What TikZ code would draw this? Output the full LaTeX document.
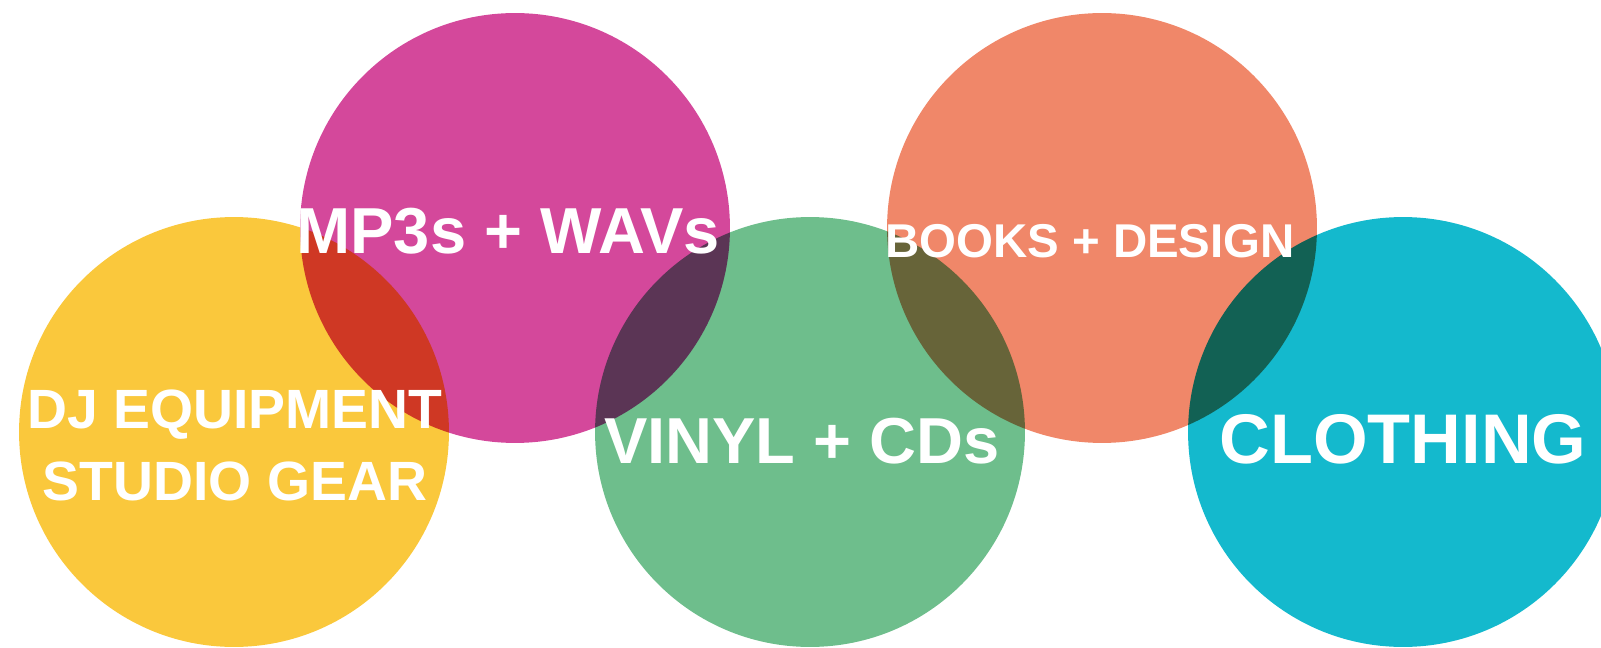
\documentclass[tikz,border=0pt]{standalone}
\usepackage{fontspec}
\newfontfamily\labelfont{Liberation Sans}
\usepackage{tikz}

\definecolor{discyellow}{RGB}{250,200,60}
\definecolor{discmagenta}{RGB}{212,72,155}
\definecolor{discgreen}{RGB}{110,190,140}
\definecolor{discsalmon}{RGB}{240,135,105}
\definecolor{disccyan}{RGB}{20,185,205}

\begin{document}
\begin{tikzpicture}[
  x=0.02cm, y=-0.02cm,
  disc/.style={circle, minimum size=8.6cm, inner sep=0pt},
  tag/.style={text=white, anchor=base, inner sep=0pt,
    font=\labelfont\bfseries\fontsize{#1pt}{#1pt}\selectfont},
]
  \useasboundingbox (0,0) rectangle (1601,648);
  \clip (0,0) rectangle (1601,648);

  % overlapping discs, darker where they meet
  \begin{scope}[blend group=multiply]
    \node[disc, fill=discyellow]  (gear)    at (234,432)  {};
    \node[disc, fill=discmagenta] (digital) at (515,228)  {};
    \node[disc, fill=discgreen]   (vinyl)   at (810,432)  {};
    \node[disc, fill=discsalmon]  (books)   at (1102,228) {};
    \node[disc, fill=disccyan]    (clothes) at (1403,432) {};
  \end{scope}

  \node[tag=37]   (digitallbl) at (508,254)  {MP3s + WAVs};
  \node[tag=31.5] (gearlbl)    at (235,428)  {DJ EQUIPMENT};
  \node[tag=31.5] (studiolbl)  at (235,500)  {STUDIO GEAR};
  \node[tag=37]   (vinyllbl)   at (802,463)  {VINYL + CDs};
  \node[tag=27]   (bookslbl)   at (1090,258) {BOOKS + DESIGN};
  \node[tag=40]   (clotheslbl) at (1403,463) {CLOTHING};
\end{tikzpicture}
\end{document}
